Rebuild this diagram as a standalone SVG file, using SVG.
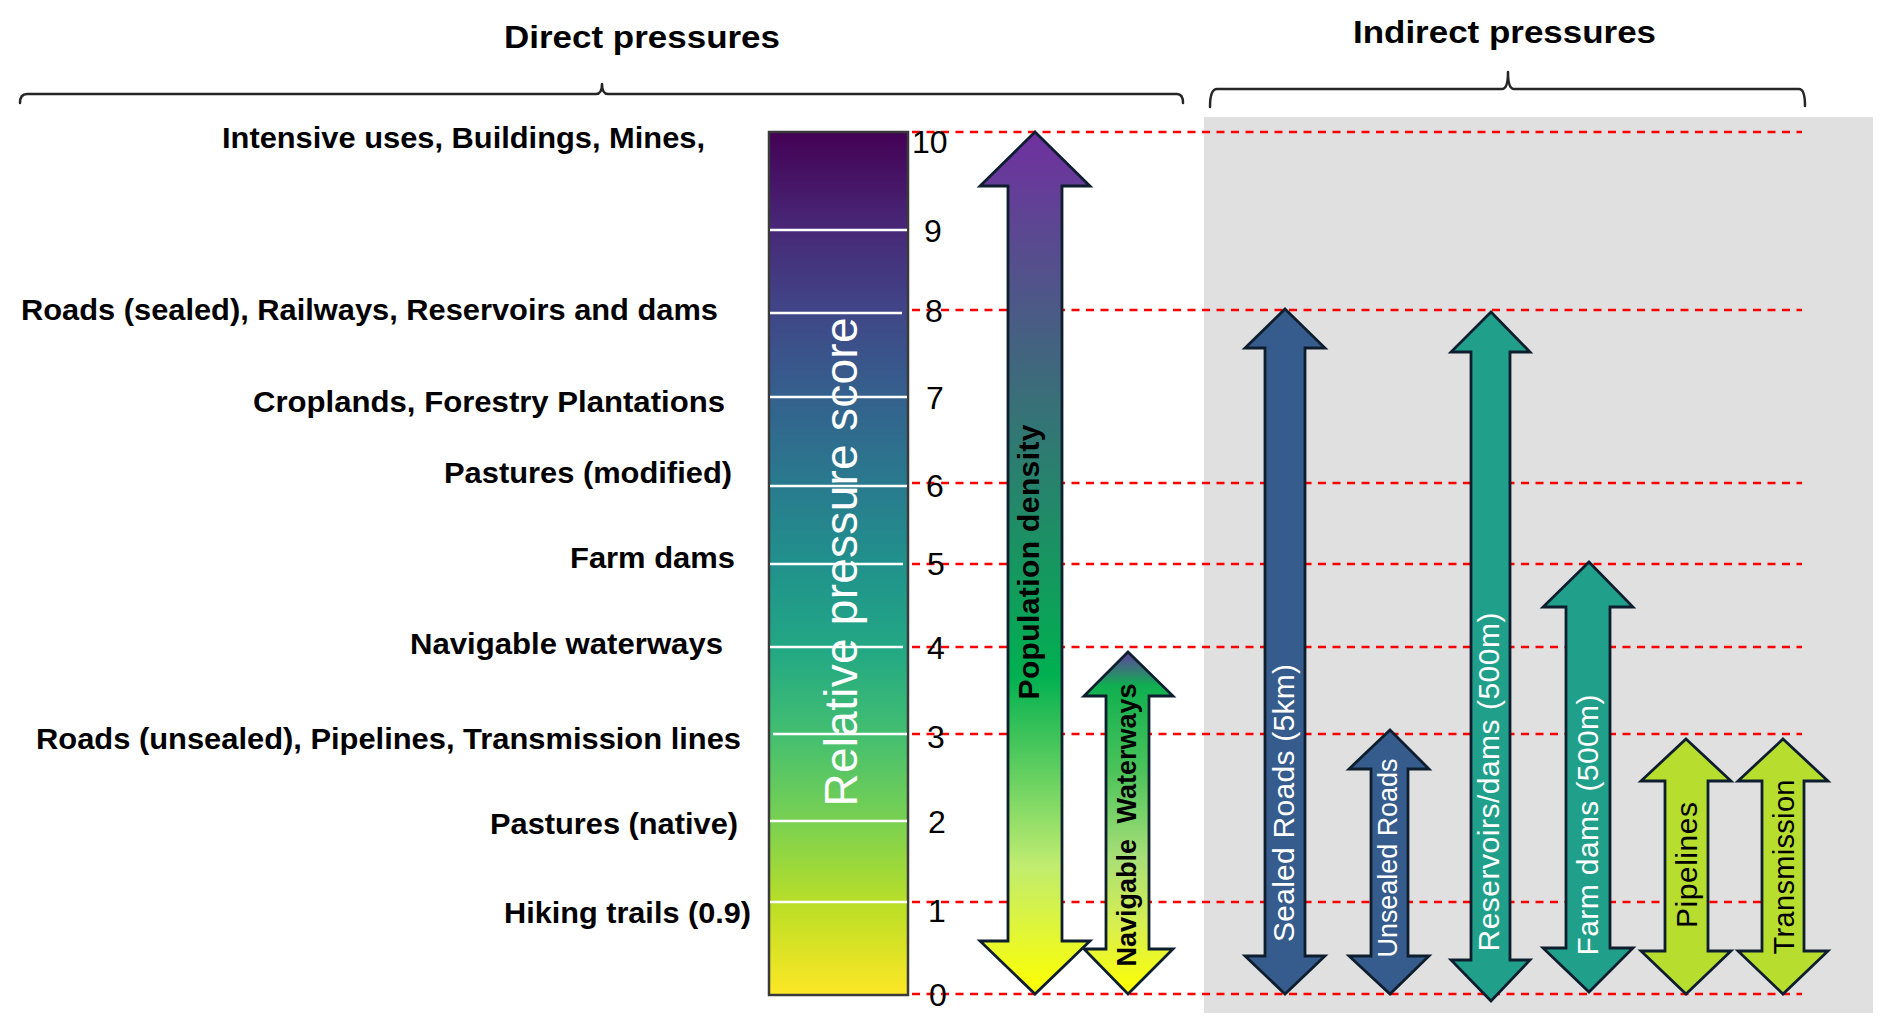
<svg xmlns="http://www.w3.org/2000/svg" width="1892" height="1032" viewBox="0 0 1892 1032">
<defs>
<style>
.title{font-family:"Liberation Sans",Arial,sans-serif;font-weight:bold;font-size:32px;fill:#000}
.lbl{font-family:"Liberation Sans",Arial,sans-serif;font-weight:bold;font-size:29px;fill:#000}
.num{font-family:"Liberation Sans",Arial,sans-serif;font-size:32px;fill:#000}
.rot{font-family:"Liberation Sans",Arial,sans-serif;text-anchor:middle}
.brace{fill:none;stroke:#262626;stroke-width:2.5;stroke-linecap:round;stroke-linejoin:round}
.dash{stroke:#ff0000;stroke-width:2.5;stroke-dasharray:8 6.5}
.tick{stroke:#ffffff;stroke-width:2.5}
.arrow{stroke:#0e1e2e;stroke-width:2.8;stroke-linejoin:miter}
.blue{fill:#365c8d}
.teal{fill:#20a08a}
.lime{fill:#b7de2e}
</style>
<linearGradient id="viridis" x1="0" y1="0" x2="0" y2="1">
<stop offset="0" stop-color="#440154"/>
<stop offset="0.1" stop-color="#482475"/>
<stop offset="0.2" stop-color="#414487"/>
<stop offset="0.3" stop-color="#355f8d"/>
<stop offset="0.4" stop-color="#2a788e"/>
<stop offset="0.5" stop-color="#21918c"/>
<stop offset="0.6" stop-color="#22a884"/>
<stop offset="0.7" stop-color="#44bf70"/>
<stop offset="0.8" stop-color="#7ad151"/>
<stop offset="0.9" stop-color="#bddf26"/>
<stop offset="1" stop-color="#fde725"/>
</linearGradient>
<linearGradient id="popGrad" x1="0" y1="0" x2="0" y2="1">
<stop offset="0" stop-color="#7030a0"/>
<stop offset="0.63" stop-color="#00b050"/>
<stop offset="0.85" stop-color="#c0ec70"/>
<stop offset="1" stop-color="#ffff00"/>
</linearGradient>
<linearGradient id="navGrad" x1="0" y1="0" x2="0" y2="1">
<stop offset="0" stop-color="#6040a0"/>
<stop offset="0.1" stop-color="#10b050"/>
<stop offset="0.35" stop-color="#4cc35a"/>
<stop offset="0.6" stop-color="#a8df78"/>
<stop offset="0.8" stop-color="#d8ef50"/>
<stop offset="1" stop-color="#ffff00"/>
</linearGradient>
</defs>
<rect width="1892" height="1032" fill="#ffffff"/>
<rect id="indirect-panel" x="1204" y="117" width="669" height="896" fill="#e0e0e0"/>

<g id="titles">
<text class="title" x="504" y="48" textLength="276" lengthAdjust="spacingAndGlyphs">Direct pressures</text>
<text class="title" x="1353" y="43" textLength="303" lengthAdjust="spacingAndGlyphs">Indirect pressures</text>
</g>

<g id="braces">
<path class="brace" d="M20,103 Q20,94 27,94 L596,94 Q602,94 602,84 Q602,94 608,94 L1177,94 Q1183,94 1183,103"/>
<path class="brace" d="M1210,107 Q1210,89 1217,89 L1502,89 Q1508,89 1508,72 Q1508,89 1514,89 L1799,89 Q1805,89 1805,106"/>
</g>

<g id="connectors">
<line class="dash" x1="912" y1="132" x2="1802" y2="132"/>
<line class="dash" x1="912" y1="310" x2="1802" y2="310"/>
<line class="dash" x1="912" y1="483" x2="1802" y2="483"/>
<line class="dash" x1="912" y1="564" x2="1802" y2="564"/>
<line class="dash" x1="912" y1="647" x2="1802" y2="647"/>
<line class="dash" x1="912" y1="734" x2="1802" y2="734"/>
<line class="dash" x1="912" y1="902" x2="1802" y2="902"/>
<line class="dash" x1="912" y1="994" x2="1802" y2="994"/>
</g>

<g id="colorbar">
<rect x="769" y="132" width="139" height="863" fill="url(#viridis)" stroke="#3a3a3a" stroke-width="2.5"/>
<line class="tick" x1="770" y1="230" x2="907" y2="230"/>
<line class="tick" x1="770" y1="313" x2="902" y2="313"/>
<line class="tick" x1="770" y1="397" x2="907" y2="397"/>
<line class="tick" x1="770" y1="486" x2="907" y2="486"/>
<line class="tick" x1="770" y1="564" x2="903" y2="564"/>
<line class="tick" x1="770" y1="647" x2="903" y2="647"/>
<line class="tick" x1="773" y1="734" x2="907" y2="734"/>
<line class="tick" x1="770" y1="821" x2="907" y2="821"/>
<line class="tick" x1="770" y1="902" x2="907" y2="902"/>
<text class="rot" transform="translate(857,562) rotate(-90)" font-size="46" fill="#ffffff" textLength="489">Relative pressure score</text>
</g>

<g id="scale-numbers">
<text class="num" x="912" y="153">10</text>
<text class="num" x="924" y="242">9</text>
<text class="num" x="925" y="322">8</text>
<text class="num" x="926" y="409">7</text>
<text class="num" x="926" y="497">6</text>
<text class="num" x="927" y="575">5</text>
<text class="num" x="927" y="659">4</text>
<text class="num" x="927" y="748">3</text>
<text class="num" x="928" y="833">2</text>
<text class="num" x="928" y="922">1</text>
<text class="num" x="929" y="1006">0</text>
</g>

<g id="direct-labels">
<text id="lbl-intensive" class="lbl" x="222" y="148" textLength="483" lengthAdjust="spacingAndGlyphs">Intensive uses, Buildings, Mines,</text>
<text id="lbl-sealed" class="lbl" x="21" y="320" textLength="697" lengthAdjust="spacingAndGlyphs">Roads (sealed), Railways, Reservoirs and dams</text>
<text id="lbl-crop" class="lbl" x="253" y="412" textLength="472" lengthAdjust="spacingAndGlyphs">Croplands, Forestry Plantations</text>
<text id="lbl-pastmod" class="lbl" x="444" y="483" textLength="288" lengthAdjust="spacingAndGlyphs">Pastures (modified)</text>
<text id="lbl-farm" class="lbl" x="570" y="568" textLength="165" lengthAdjust="spacingAndGlyphs">Farm dams</text>
<text id="lbl-nav" class="lbl" x="410" y="654" textLength="313" lengthAdjust="spacingAndGlyphs">Navigable waterways</text>
<text id="lbl-unsealed" class="lbl" x="36" y="749" textLength="705" lengthAdjust="spacingAndGlyphs">Roads (unsealed), Pipelines, Transmission lines</text>
<text id="lbl-pastnat" class="lbl" x="490" y="834" textLength="248" lengthAdjust="spacingAndGlyphs">Pastures (native)</text>
<text id="lbl-hiking" class="lbl" x="504" y="923" textLength="247" lengthAdjust="spacingAndGlyphs">Hiking trails (0.9)</text>
</g>

<g id="arrow-population">
<polygon class="arrow" fill="url(#popGrad)" points="1035,132 1090,186 1062,186 1062,941 1090,941 1035,994 980,941 1008,941 1008,186 980,186"/>
<text class="rot" transform="translate(1039,562) rotate(-90)" font-size="30" font-weight="bold" fill="#000" textLength="275">Population density</text>
</g>

<g id="arrow-navigable">
<polygon class="arrow" fill="url(#navGrad)" points="1128,652 1173,696 1149,696 1149,949 1173,949 1128,994 1084,949 1106,949 1106,696 1084,696"/>
<text class="rot" transform="translate(1136,825) rotate(-90)" font-size="27" font-weight="bold" fill="#000" word-spacing="8" textLength="283">Navigable Waterways</text>
</g>

<g id="arrow-sealed-roads">
<polygon class="arrow blue" points="1285,309 1325,348 1305,348 1305,956 1325,956 1285,994 1245,956 1265,956 1265,348 1245,348"/>
<text class="rot" transform="translate(1294,803) rotate(-90)" font-size="30" fill="#ffffff" textLength="278">Sealed Roads (5km)</text>
</g>

<g id="arrow-unsealed-roads">
<polygon class="arrow blue" points="1390,730 1429,769 1408,769 1408,956 1429,956 1390,994 1349,956 1371,956 1371,769 1349,769"/>
<text class="rot" transform="translate(1397,858) rotate(-90)" font-size="27" fill="#ffffff" textLength="199">Unsealed Roads</text>
</g>

<g id="arrow-reservoirs">
<polygon class="arrow teal" points="1491,312 1530,352 1510,352 1510,960 1530,960 1491,1001 1451,960 1471,960 1471,352 1451,352"/>
<text class="rot" transform="translate(1499,782) rotate(-90)" font-size="30" fill="#ffffff" textLength="339">Reservoirs/dams (500m)</text>
</g>

<g id="arrow-farm-dams">
<polygon class="arrow teal" points="1589,562 1633,607 1610,607 1610,948 1633,948 1589,992 1543,948 1566,948 1566,607 1543,607"/>
<text class="rot" transform="translate(1598,825) rotate(-90)" font-size="30" fill="#ffffff" textLength="261">Farm dams (500m)</text>
</g>

<g id="arrow-pipelines">
<polygon class="arrow lime" points="1686,739 1731,781 1708,781 1708,951 1731,951 1686,994 1641,951 1665,951 1665,781 1641,781"/>
<text class="rot" transform="translate(1697,865) rotate(-90)" font-size="30" fill="#000" textLength="126">Pipelines</text>
</g>

<g id="arrow-transmission">
<polygon class="arrow lime" points="1783,739 1828,781 1804,781 1804,951 1828,951 1783,994 1738,951 1762,951 1762,781 1738,781"/>
<text class="rot" transform="translate(1794,867) rotate(-90)" font-size="29" fill="#000" textLength="175">Transmission</text>
</g>
</svg>
